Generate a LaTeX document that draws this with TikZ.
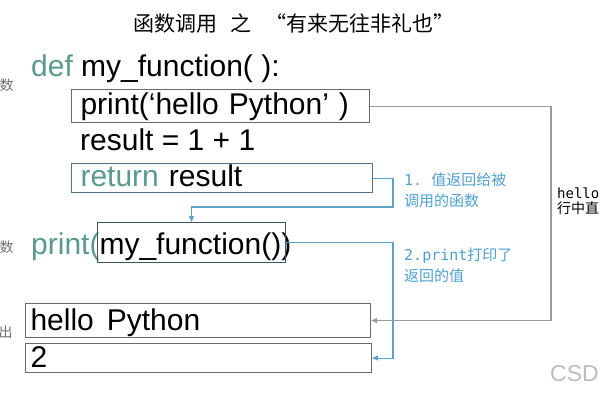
\documentclass[tikz,border=0pt]{standalone}
\usepackage{fontspec}
\setmainfont{Liberation Sans}
\newfontfamily\cjk{Noto Sans CJK SC}
\newfontfamily\monof{DejaVu Sans Mono}
\usetikzlibrary{arrows.meta}
\definecolor{tealc}{HTML}{5A9A8C}
\definecolor{boxgray}{HTML}{6A6A6A}
\definecolor{boxblue}{HTML}{4F7384}
\definecolor{mfbox}{HTML}{3E5266}
\definecolor{linegray}{HTML}{9A9A9A}
\definecolor{lineblue}{HTML}{5EA2C6}
\definecolor{textblue}{HTML}{4DA0CF}
\definecolor{lblgray}{HTML}{707070}
\definecolor{csdgray}{HTML}{BDBDBD}
\begin{document}
\begin{tikzpicture}[x=1pt,y=-1pt,
  codefont/.style={font=\fontsize{30}{30}\selectfont},
  code/.style={codefont, inner sep=0pt, anchor=base west, text=black},
  codebox/.style={codefont, draw=#1, line width=1.1pt, anchor=north west,
     inner xsep=9pt, inner ysep=0pt, text height=22pt, text depth=6pt, align=left},
  outbox/.style={codebox=boxgray, inner xsep=5pt, text depth=3pt},
  grayline/.style={draw=linegray, line width=1.1pt, -{Triangle[length=6pt,width=5pt]}},
  blueline/.style={draw=lineblue, line width=1.1pt, -{Triangle[length=6pt,width=5pt]}},
  bluelbl/.style={font=\fontsize{15}{21}\cjk, text=textblue, align=left, anchor=north west, inner sep=0pt},
  sidelbl/.style={font=\fontsize{14}{14}\cjk, text=lblgray, inner sep=0pt},
]
\useasboundingbox (0,0) rectangle (600,400);
\clip (0,0) rectangle (600,400);

% title
\node[font=\fontsize{21}{21}\cjk, inner sep=0pt] (title) at (294,23) {函数调用\hspace{14pt}之\hspace{14pt}“有来无往非礼也”};

% left side labels (cut off)
\node[sidelbl] (s1) at (6.5,85) {数};
\node[sidelbl] (s2) at (6.5,247) {数};
\node[sidelbl] (s3) at (5.5,332) {出};

% code
\node[code] (def) at (31,76) {{\color{tealc}def} my\_function( ):};
\node[codebox=boxgray, text width=280pt, minimum height=33pt] (b1) at (71,89) {print(‘hello Python’ )};
\node[code] (res) at (80,150) {result = 1 + 1};
\node[codebox=boxblue, text width=283pt, minimum height=29pt] (rb) at (71,163) {{\color{tealc}return} result};

\node[code] (pr) at (31,254) {{\color{tealc}print(}my\_function())};
\node[draw=mfbox, line width=1.1pt, anchor=north west, inner sep=0pt,
      minimum width=188pt, minimum height=40pt] (mf) at (97,222) {};

% output
\node[outbox, text width=335pt, minimum height=34pt] (hb) at (25,303) {hello\hspace{13pt}Python};
\node[outbox, text width=336pt, minimum height=29pt] (tb) at (25,343) {2};

% labels
\node[bluelbl] (l1) at (404,172.5) {{\monof 1.~}值返回给被\\调用的函数};
\node[bluelbl] (l2) at (404,247.5) {{\monof 2.print}打印了\\返回的值};
\node[font=\fontsize{14}{15}\cjk, align=left, anchor=north west, inner sep=0pt] (rt) at (557,188) {{\monof hello}\\行中直};
\node[font=\fontsize{23}{23}\selectfont, text=csdgray, anchor=east, inner sep=0pt] (csd) at (599,374) {CSD};

% connectors
\coordinate (gx) at (551,0);
\coordinate (j1) at (393,207);
\draw[grayline] (b1.east) -- (b1.east -| gx) |- (hb.east);
\draw[blueline] (rb.east) -| (j1) -| (mf.north);
\draw[blueline] (mf.east) -- (mf.east -| j1) |- (tb.east);
\end{tikzpicture}
\end{document}
